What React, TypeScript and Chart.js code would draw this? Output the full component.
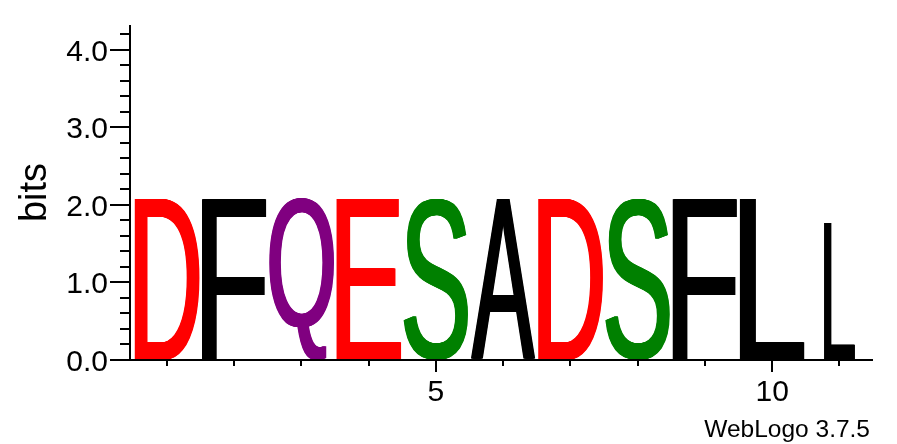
import React, { useEffect, useRef } from "react";
import { Chart, registerables } from "chart.js";

Chart.register(...registerables);

// ---- data ----
const positions = [1, 2, 3, 4, 5, 6, 7, 8, 9, 10, 11];
const letters = ["D", "F", "Q", "E", "S", "A", "D", "S", "F", "L", "L"];
const heights = [2.08, 2.08, 2.08, 2.08, 2.08, 2.08, 2.08, 2.08, 2.08, 2.08, 1.77];
const widthFractions = [1, 1, 1, 1, 1, 1, 1, 1, 1, 1, 0.48];
const letterColors: Record<string, string> = {
  D: "#ff0000",
  E: "#ff0000",
  Q: "#800080",
  S: "#008000",
  F: "#000000",
  A: "#000000",
  L: "#000000",
};
const xTickValues = [1, 2, 3, 4, 5, 6, 7, 8, 9, 10, 11];
const xMajorTicks = [5, 10];
const xTickLabels = ["5", "10"];
const yMajorTicks = [0, 1, 2, 3, 4];
const yTickLabels = ["0.0", "1.0", "2.0", "3.0", "4.0"];
const yMinorStep = 0.2;
const yMax = 4.32;
const xMin = 0.45;
const xMax = 11.5;
const yTitle = "bits";
const fineprint = "WebLogo 3.7.5";

const FONT = '"Liberation Sans", Arial, Helvetica, sans-serif';

const logoPlugin = {
  id: "logoPlugin",
  afterDatasetsDraw(chart: any) {
    const ctx = chart.ctx as CanvasRenderingContext2D;
    const xs = chart.scales.x;
    const ys = chart.scales.y;
    const data = chart.data.datasets[0].data as { x: number; y: number }[];
    const y0 = ys.getPixelForValue(0);
    data.forEach((d, i) => {
      const letter = letters[i];
      const w = 0.965 * widthFractions[i];
      const x0 = xs.getPixelForValue(d.x - w / 2);
      const x1 = xs.getPixelForValue(d.x + w / 2);
      const yTop = ys.getPixelForValue(d.y);
      const thick = widthFractions[i] < 1 ? 0.5 : 1.5;
      ctx.save();
      ctx.font = `200px ${FONT}`;
      ctx.textAlign = "left";
      ctx.textBaseline = "alphabetic";
      const m = ctx.measureText(letter);
      const gw = m.actualBoundingBoxLeft + m.actualBoundingBoxRight;
      const gh = m.actualBoundingBoxAscent + m.actualBoundingBoxDescent;
      ctx.fillStyle = letterColors[letter] || "#000";
      for (let off = -thick; off <= thick + 1e-6; off += 0.5) {
        ctx.save();
        ctx.translate(x0 + thick + off, yTop);
        ctx.scale((x1 - x0 - 2 * thick) / gw, (y0 - yTop) / gh);
        ctx.fillText(letter, m.actualBoundingBoxLeft, m.actualBoundingBoxAscent);
        ctx.restore();
      }
      ctx.restore();
    });
  },
  afterDraw(chart: any) {
    const ctx = chart.ctx as CanvasRenderingContext2D;
    const xs = chart.scales.x;
    const ys = chart.scales.y;
    const area = chart.chartArea;
    const axX = area.left;
    const axY = ys.getPixelForValue(0);
    ctx.save();
    ctx.strokeStyle = "#000";
    ctx.lineCap = "butt";
    // y axis line
    ctx.lineWidth = 2;
    ctx.beginPath();
    ctx.moveTo(axX, ys.getPixelForValue(yMax));
    ctx.lineTo(axX, axY + 1);
    ctx.stroke();
    // y ticks
    const nMinor = Math.round(4.2 / yMinorStep);
    for (let k = 0; k <= nMinor; k++) {
      const v = k * yMinorStep;
      const isMajor = yMajorTicks.some((t) => Math.abs(t - v) < 1e-6);
      const py = Math.round(ys.getPixelForValue(v));
      ctx.lineWidth = 2;
      ctx.beginPath();
      ctx.moveTo(axX - (isMajor ? 20 : 10), py);
      ctx.lineTo(axX, py);
      ctx.stroke();
    }
    // x axis line
    ctx.lineWidth = 2;
    ctx.beginPath();
    ctx.moveTo(axX, axY);
    ctx.lineTo(xs.getPixelForValue(xMax), axY);
    ctx.stroke();
    // x ticks
    xTickValues.forEach((v) => {
      const isMajor = xMajorTicks.includes(v);
      const px = Math.round(xs.getPixelForValue(v));
      ctx.lineWidth = 2;
      ctx.beginPath();
      ctx.moveTo(px, axY);
      ctx.lineTo(px, axY + (isMajor ? 12 : 6));
      ctx.stroke();
    });
    // fineprint
    ctx.fillStyle = "#000";
    ctx.font = `24.5px ${FONT}`;
    ctx.textAlign = "right";
    ctx.textBaseline = "alphabetic";
    ctx.fillText(fineprint, 870, 437);
    ctx.restore();
  },
};

export default function App() {
  const canvasRef = useRef<HTMLCanvasElement | null>(null);

  useEffect(() => {
    document.body.style.margin = "0";
    const canvas = canvasRef.current;
    if (!canvas) return;
    const chart = new Chart(canvas, {
      type: "scatter",
      data: {
        datasets: [
          {
            label: "stack heights",
            data: positions.map((p, i) => ({ x: p, y: heights[i] })),
            pointRadius: 0,
            showLine: false,
          },
        ],
      },
      options: {
        animation: false,
        responsive: true,
        maintainAspectRatio: false,
        layout: { padding: { left: 0, top: 25, right: 24, bottom: 0 } },
        plugins: {
          legend: { display: false },
          tooltip: { enabled: false },
        },
        scales: {
          x: {
            type: "linear",
            position: "bottom",
            min: xMin,
            max: xMax,
            grid: { display: false, drawTicks: false },
            border: { display: false },
            afterBuildTicks: (scale: any) => {
              scale.ticks = xMajorTicks.map((v) => ({ value: v }));
            },
            afterFit: (scale: any) => {
              scale.height = 84;
              scale.paddingLeft = 0;
              scale.paddingRight = 0;
            },
            ticks: {
              autoSkip: false,
              maxRotation: 0,
              minRotation: 0,
              padding: 15,
              color: "#000",
              font: { family: FONT, size: 30 },
              callback: (v: any) => {
                const idx = xMajorTicks.indexOf(Number(v));
                return idx >= 0 ? xTickLabels[idx] : "";
              },
            },
          },
          y: {
            type: "linear",
            position: "left",
            min: 0,
            max: yMax,
            grid: { display: false, drawTicks: false },
            border: { display: false },
            afterBuildTicks: (scale: any) => {
              scale.ticks = yMajorTicks.map((v) => ({ value: v }));
            },
            afterFit: (scale: any) => {
              scale.width = 130;
              scale.paddingTop = 0;
              scale.paddingBottom = 0;
            },
            ticks: {
              autoSkip: false,
              padding: 22,
              labelOffset: 2.5,
              color: "#000",
              font: { family: FONT, size: 30 },
              callback: (v: any) => {
                const idx = yMajorTicks.indexOf(Number(v));
                return idx >= 0 ? yTickLabels[idx] : "";
              },
            },
            title: {
              display: true,
              text: yTitle,
              color: "#000",
              font: { family: FONT, size: 38 },
              padding: { top: 13, bottom: 0 },
            },
          },
        },
      },
      plugins: [logoPlugin],
    });
    return () => chart.destroy();
  }, []);

  return (
    <div style={{ position: "absolute", left: 0, top: 0, width: 897, height: 444 }}>
      <canvas ref={canvasRef} />
    </div>
  );
}
